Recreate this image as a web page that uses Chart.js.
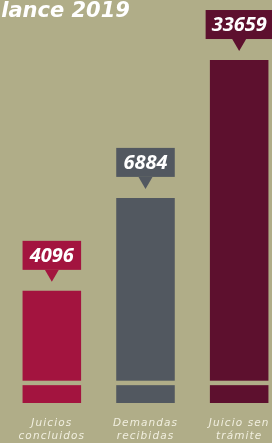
<!DOCTYPE html>
<html>
<head>
<meta charset="utf-8">
<script src="https://cdn.jsdelivr.net/npm/chart.js@4.4.1/dist/chart.umd.min.js"></script>
<style>
  html, body { margin: 0; padding: 0; width: 272px; height: 443px; overflow: hidden; background: #b0ad88; }
  #wrap { position: relative; width: 286px; height: 443px; }
  #title { position: absolute; left: -29px; top: 0px; line-height: 21px; font-family: "DejaVu Sans", sans-serif; font-weight: 700; font-style: italic; font-size: 21px; color: #ffffff; white-space: nowrap; z-index: 2; }
  canvas { position: absolute; left: 0; top: 0; }
</style>
</head>
<body>
<div id="wrap">
  <div id="title">Balance 2019</div>
  <canvas id="c" width="286" height="443"></canvas>
</div>
<script>
// Categories (multi-line labels)
const categories = [["Juicios", "concluidos"], ["Demandas", "recibidas"], ["Juicio sen", "trámite"]];
// Values shown in the callouts
const values = [4096, 6884, 33659];
// Relative bar heights as drawn in the picture (tallest = 100)
const barHeights = [32.7, 59.8, 100];
// Colours per bar
const barColors = ["#a3143f", "#525860", "#5d102e"];

const BG = "#b0ad88";

const spacingPlugin = {
  id: "spacing",
  beforeDraw(chart) { chart.ctx.letterSpacing = "1.1px"; },
  beforeLayout(chart) { chart.ctx.letterSpacing = "1.1px"; }
};

const bandPlugin = {
  id: "band",
  afterDatasetsDraw(chart) {
    const ys = chart.scales.y;
    const yA = ys.getPixelForValue(5.2);
    const yB = ys.getPixelForValue(6.5);
    const ctx = chart.ctx;
    ctx.save();
    ctx.fillStyle = BG;
    chart.getDatasetMeta(0).data.forEach(bar => {
      ctx.fillRect(bar.x - bar.width / 2 - 1, yB, bar.width + 2, yA - yB);
    });
    ctx.restore();
  }
};

const calloutPlugin = {
  id: "callout",
  afterDatasetsDraw(chart) {
    const ctx = chart.ctx;
    ctx.save();
    ctx.letterSpacing = "0px";
    ctx.font = "italic 700 20px 'Open Sans', 'DejaVu Sans', sans-serif";
    chart.getDatasetMeta(0).data.forEach((bar, i) => {
      const txt = String(values[i]);
      const tw = ctx.measureText(txt).width;
      const w = Math.max(tw + 12, bar.width);
      const h = 29;
      const bottom = bar.y - 21;
      const top = bottom - h;
      const left = bar.x - w / 2;
      ctx.fillStyle = barColors[i];
      ctx.fillRect(left, top, w, h);
      ctx.beginPath();
      ctx.moveTo(bar.x - 7, bottom);
      ctx.lineTo(bar.x + 7, bottom);
      ctx.lineTo(bar.x, bar.y - 9);
      ctx.closePath();
      ctx.fill();
      ctx.fillStyle = "#ffffff";
      ctx.textAlign = "center";
      ctx.textBaseline = "middle";
      ctx.fillText(txt, bar.x, top + h / 2 + 1);
    });
    ctx.restore();
  }
};

new Chart(document.getElementById("c"), {
  type: "bar",
  data: {
    labels: categories,
    datasets: [{
      data: barHeights,
      backgroundColor: barColors,
      borderWidth: 0,
      barPercentage: 0.625,
      categoryPercentage: 1
    }]
  },
  options: {
    responsive: false,
    animation: false,
    layout: { padding: { left: 5, right: 0, top: 0, bottom: 0 } },
    plugins: { legend: { display: false }, tooltip: { enabled: false } },
    scales: {
      x: {
        grid: { display: false },
        border: { display: false },
        afterFit(scale) { scale.height = 40; },
        ticks: {
          color: "rgba(246,244,230,0.92)",
          font: { family: "'DejaVu Sans', sans-serif", size: 10.5, style: "italic", lineHeight: 1.25 },
          padding: 6,
          maxRotation: 0,
          autoSkip: false
        }
      },
      y: {
        display: false,
        min: 0,
        max: 117.5
      }
    }
  },
  plugins: [spacingPlugin, bandPlugin, calloutPlugin]
});
</script>
</body>
</html>
